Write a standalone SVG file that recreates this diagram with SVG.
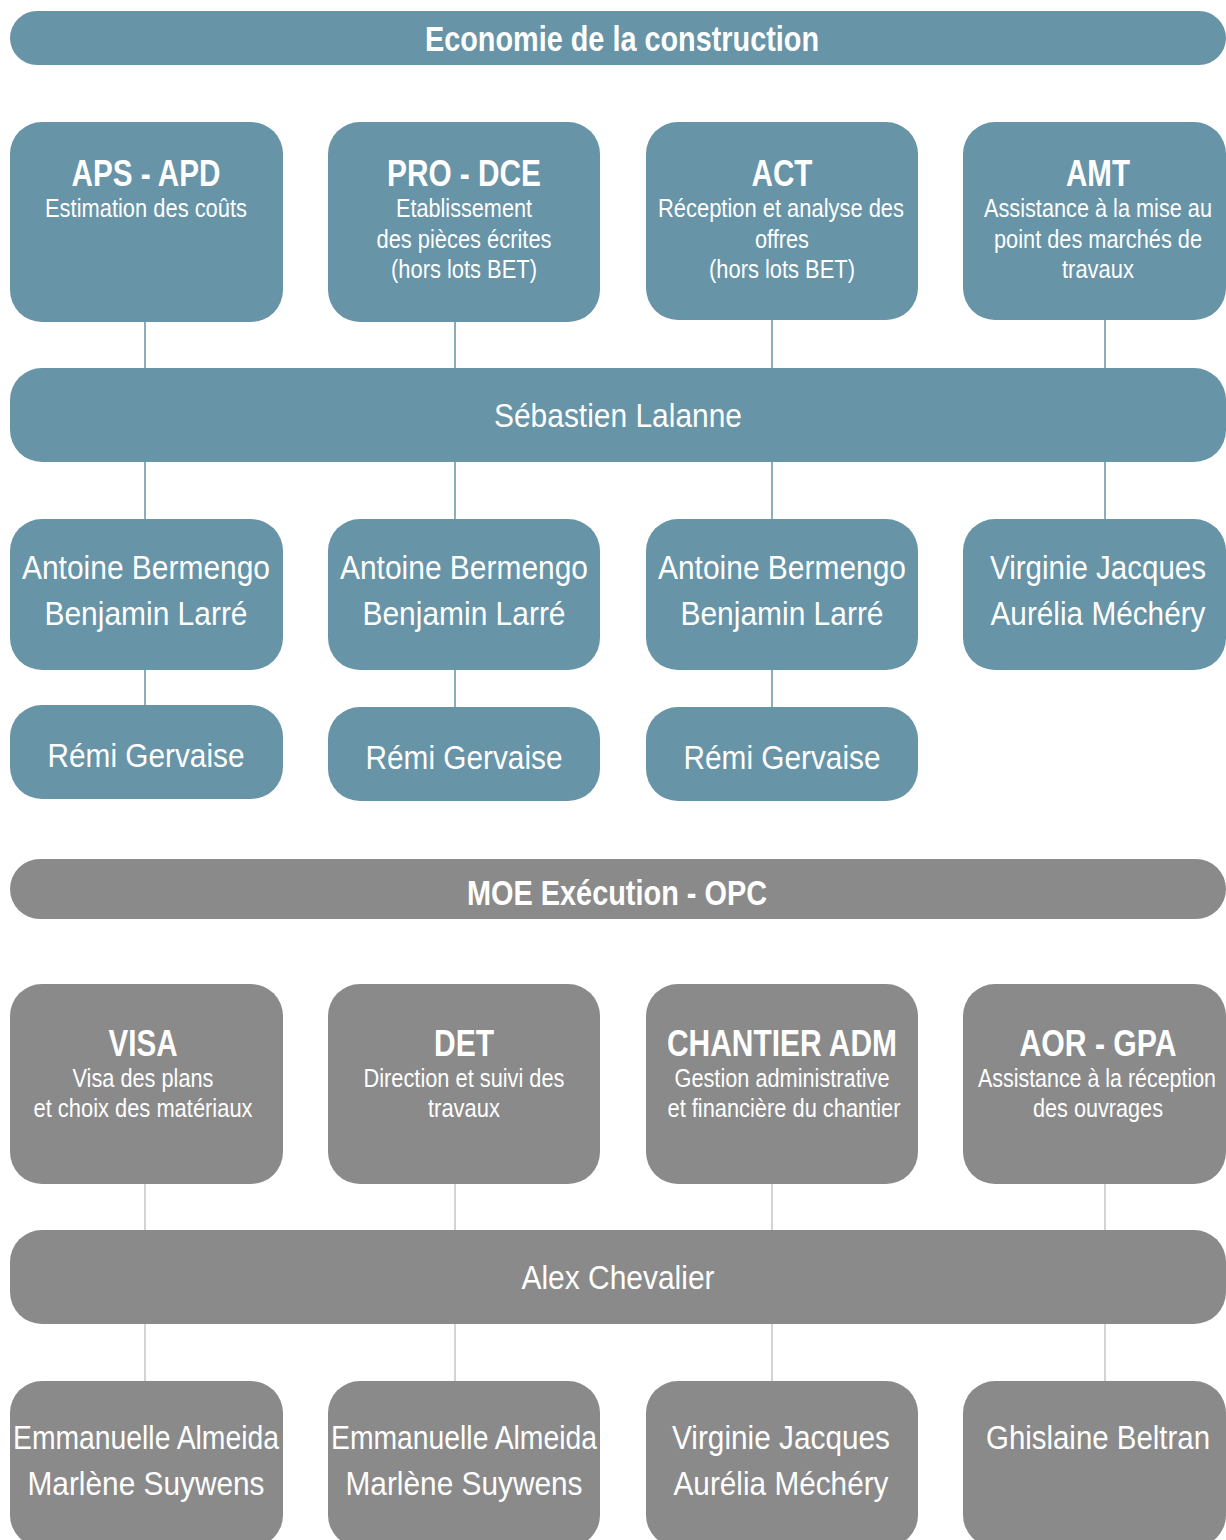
<svg xmlns="http://www.w3.org/2000/svg" width="1226" height="1540" viewBox="0 0 1226 1540">
<style>
.teal{fill:#6794A7}
.gray{fill:#8A8A8A}
.ct{stroke:#6794A7;stroke-width:1.5;fill:none}
.cg{stroke:#C6C6C6;stroke-width:1.5;fill:none}
text{font-family:"Liberation Sans",Arial,sans-serif;fill:#FFFFFF;text-anchor:middle}
.hd{font-size:35px;font-weight:bold}
.ti{font-size:36px;font-weight:bold}
.sb{font-size:25px}
.nm{font-size:33px}
</style>
<rect width="1226" height="1540" fill="#FFFFFF"/>
<g id="connectors">
<path class="ct" d="M145,322V368M145,462V519M145,670V705M455,322V368M455,462V519M455,670V707M772,320V368M772,462V519M772,670V707M1105,320V368M1105,462V519"/>
<path class="cg" d="M145,1184V1230M145,1324V1381M455,1184V1230M455,1324V1381M772,1184V1230M772,1324V1381M1105,1184V1230M1105,1324V1381"/>
</g>
<g id="header-eco">
<rect class="teal" x="10" y="11" width="1216" height="54" rx="27"/>
<text class="hd" x="622" y="51" textLength="394" lengthAdjust="spacingAndGlyphs">Economie de la construction</text>
</g>
<g id="aps-apd">
<rect class="teal" x="10" y="122" width="273" height="200" rx="32"/>
<text class="ti" x="146" y="186" textLength="149" lengthAdjust="spacingAndGlyphs">APS - APD</text>
<text class="sb" x="146" y="217" textLength="202" lengthAdjust="spacingAndGlyphs">Estimation des coûts</text>
</g>
<g id="pro-dce">
<rect class="teal" x="328" y="122" width="272" height="200" rx="32"/>
<text class="ti" x="464" y="186" textLength="154" lengthAdjust="spacingAndGlyphs">PRO - DCE</text>
<text class="sb" x="464" y="217" textLength="136" lengthAdjust="spacingAndGlyphs">Etablissement</text>
<text class="sb" x="464" y="248" textLength="175" lengthAdjust="spacingAndGlyphs">des pièces écrites</text>
<text class="sb" x="464" y="278" textLength="146" lengthAdjust="spacingAndGlyphs">(hors lots BET)</text>
</g>
<g id="act">
<rect class="teal" x="646" y="122" width="272" height="198" rx="32"/>
<text class="ti" x="782" y="186" textLength="61" lengthAdjust="spacingAndGlyphs">ACT</text>
<text class="sb" x="781" y="217" textLength="246" lengthAdjust="spacingAndGlyphs">Réception et analyse des</text>
<text class="sb" x="782" y="248" textLength="54" lengthAdjust="spacingAndGlyphs">offres</text>
<text class="sb" x="782" y="278" textLength="146" lengthAdjust="spacingAndGlyphs">(hors lots BET)</text>
</g>
<g id="amt">
<rect class="teal" x="963" y="122" width="263" height="198" rx="32"/>
<text class="ti" x="1098" y="186" textLength="64" lengthAdjust="spacingAndGlyphs">AMT</text>
<text class="sb" x="1098" y="217" textLength="228" lengthAdjust="spacingAndGlyphs">Assistance à la mise au</text>
<text class="sb" x="1098" y="248" textLength="208" lengthAdjust="spacingAndGlyphs">point des marchés de</text>
<text class="sb" x="1098" y="278" textLength="72" lengthAdjust="spacingAndGlyphs">travaux</text>
</g>
<g id="lalanne">
<rect class="teal" x="10" y="368" width="1216" height="94" rx="32"/>
<text class="nm" x="618" y="427" textLength="248" lengthAdjust="spacingAndGlyphs">Sébastien Lalanne</text>
</g>
<g id="team-aps">
<rect class="teal" x="10" y="519" width="273" height="151" rx="32"/>
<text class="nm" x="146" y="579" textLength="248" lengthAdjust="spacingAndGlyphs">Antoine Bermengo</text>
<text class="nm" x="146" y="625" textLength="203" lengthAdjust="spacingAndGlyphs">Benjamin Larré</text>
</g>
<g id="team-pro">
<rect class="teal" x="328" y="519" width="272" height="151" rx="32"/>
<text class="nm" x="464" y="579" textLength="248" lengthAdjust="spacingAndGlyphs">Antoine Bermengo</text>
<text class="nm" x="464" y="625" textLength="203" lengthAdjust="spacingAndGlyphs">Benjamin Larré</text>
</g>
<g id="team-act">
<rect class="teal" x="646" y="519" width="272" height="151" rx="32"/>
<text class="nm" x="782" y="579" textLength="248" lengthAdjust="spacingAndGlyphs">Antoine Bermengo</text>
<text class="nm" x="782" y="625" textLength="203" lengthAdjust="spacingAndGlyphs">Benjamin Larré</text>
</g>
<g id="team-amt">
<rect class="teal" x="963" y="519" width="263" height="151" rx="32"/>
<text class="nm" x="1098" y="579" textLength="216" lengthAdjust="spacingAndGlyphs">Virginie Jacques</text>
<text class="nm" x="1098" y="625" textLength="215" lengthAdjust="spacingAndGlyphs">Aurélia Méchéry</text>
</g>
<g id="remi-aps">
<rect class="teal" x="10" y="705" width="273" height="94" rx="32"/>
<text class="nm" x="146" y="767" textLength="197" lengthAdjust="spacingAndGlyphs">Rémi Gervaise</text>
</g>
<g id="remi-pro">
<rect class="teal" x="328" y="707" width="272" height="94" rx="32"/>
<text class="nm" x="464" y="769" textLength="197" lengthAdjust="spacingAndGlyphs">Rémi Gervaise</text>
</g>
<g id="remi-act">
<rect class="teal" x="646" y="707" width="272" height="94" rx="32"/>
<text class="nm" x="782" y="769" textLength="197" lengthAdjust="spacingAndGlyphs">Rémi Gervaise</text>
</g>
<g id="header-moe">
<rect class="gray" x="10" y="859" width="1216" height="60" rx="30"/>
<text class="hd" x="617" y="905" textLength="300" lengthAdjust="spacingAndGlyphs">MOE Exécution - OPC</text>
</g>
<g id="visa">
<rect class="gray" x="10" y="984" width="273" height="200" rx="32"/>
<text class="ti" x="143" y="1056" textLength="69" lengthAdjust="spacingAndGlyphs">VISA</text>
<text class="sb" x="143" y="1087" textLength="141" lengthAdjust="spacingAndGlyphs">Visa des plans</text>
<text class="sb" x="143" y="1117" textLength="219" lengthAdjust="spacingAndGlyphs">et choix des matériaux</text>
</g>
<g id="det">
<rect class="gray" x="328" y="984" width="272" height="200" rx="32"/>
<text class="ti" x="464" y="1056" textLength="60" lengthAdjust="spacingAndGlyphs">DET</text>
<text class="sb" x="464" y="1087" textLength="201" lengthAdjust="spacingAndGlyphs">Direction et suivi des</text>
<text class="sb" x="464" y="1117" textLength="72" lengthAdjust="spacingAndGlyphs">travaux</text>
</g>
<g id="chantier-adm">
<rect class="gray" x="646" y="984" width="272" height="200" rx="32"/>
<text class="ti" x="782" y="1056" textLength="230" lengthAdjust="spacingAndGlyphs">CHANTIER ADM</text>
<text class="sb" x="782" y="1087" textLength="215" lengthAdjust="spacingAndGlyphs">Gestion administrative</text>
<text class="sb" x="784" y="1117" textLength="233" lengthAdjust="spacingAndGlyphs">et financière du chantier</text>
</g>
<g id="aor-gpa">
<rect class="gray" x="963" y="984" width="263" height="200" rx="32"/>
<text class="ti" x="1098" y="1056" textLength="157" lengthAdjust="spacingAndGlyphs">AOR - GPA</text>
<text class="sb" x="1097" y="1087" textLength="238" lengthAdjust="spacingAndGlyphs">Assistance à la réception</text>
<text class="sb" x="1098" y="1117" textLength="130" lengthAdjust="spacingAndGlyphs">des ouvrages</text>
</g>
<g id="chevalier">
<rect class="gray" x="10" y="1230" width="1216" height="94" rx="32"/>
<text class="nm" x="618" y="1289" textLength="193" lengthAdjust="spacingAndGlyphs">Alex Chevalier</text>
</g>
<g id="team-visa">
<rect class="gray" x="10" y="1381" width="273" height="166" rx="32"/>
<text class="nm" x="146" y="1449" textLength="266" lengthAdjust="spacingAndGlyphs">Emmanuelle Almeida</text>
<text class="nm" x="146" y="1495" textLength="237" lengthAdjust="spacingAndGlyphs">Marlène Suywens</text>
</g>
<g id="team-det">
<rect class="gray" x="328" y="1381" width="272" height="166" rx="32"/>
<text class="nm" x="464" y="1449" textLength="266" lengthAdjust="spacingAndGlyphs">Emmanuelle Almeida</text>
<text class="nm" x="464" y="1495" textLength="237" lengthAdjust="spacingAndGlyphs">Marlène Suywens</text>
</g>
<g id="team-chantier">
<rect class="gray" x="646" y="1381" width="272" height="166" rx="32"/>
<text class="nm" x="781" y="1449" textLength="218" lengthAdjust="spacingAndGlyphs">Virginie Jacques</text>
<text class="nm" x="781" y="1495" textLength="215" lengthAdjust="spacingAndGlyphs">Aurélia Méchéry</text>
</g>
<g id="team-aor">
<rect class="gray" x="963" y="1381" width="263" height="166" rx="32"/>
<text class="nm" x="1098" y="1449" textLength="224" lengthAdjust="spacingAndGlyphs">Ghislaine Beltran</text>
</g>
</svg>
